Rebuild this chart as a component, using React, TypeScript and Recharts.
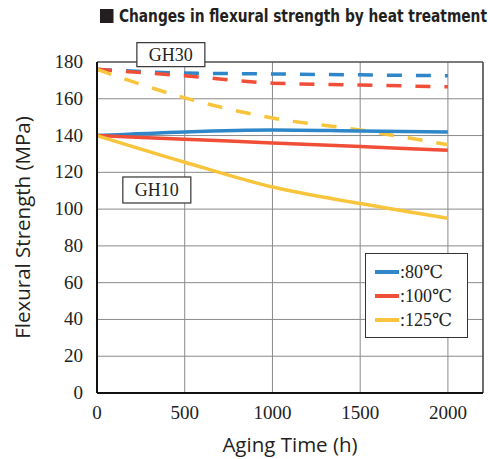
import React from 'react';
import {
  LineChart,
  Line,
  XAxis,
  YAxis,
  CartesianGrid,
  ReferenceLine,
  ReferenceDot,
} from 'recharts';

// aging time (h)
const hours = [0, 500, 1000, 1500, 2000];

// GH10 (solid)
const gh10_80 = [140, 142, 143, 142.5, 142];
const gh10_100 = [140, 138, 136, 134, 132];
const gh10_125 = [140, 125.5, 112, 103, 95];

// GH30 (dashed)
const gh30_80 = [176, 174, 173.5, 173, 172.5];
const gh30_100 = [176, 172.5, 168.5, 167.5, 166.5];
const gh30_125 = [176, 160.5, 149.5, 143, 135];

const xTicks = [0, 500, 1000, 1500, 2000];
const yTicks = [0, 20, 40, 60, 80, 100, 120, 140, 160, 180];

const legendItems = [
  { label: ':80℃', color: '#2f87c9' },
  { label: ':100℃', color: '#f04e37' },
  { label: ':125℃', color: '#f7c43b' },
];

const data = hours.map((h, i) => ({
  h,
  a80: gh10_80[i],
  a100: gh10_100[i],
  a125: gh10_125[i],
  b80: gh30_80[i],
  b100: gh30_100[i],
  b125: gh30_125[i],
}));

const serif = "'Liberation Serif', 'DejaVu Serif', serif";
const sans = "'Open Sans', 'DejaVu Sans', sans-serif";
const condensed = "'DejaVu Sans Condensed', 'DejaVu Sans', sans-serif";

const XTick = (props: any) => {
  const { x, y, payload } = props;
  return (
    <text x={x} y={y + 18} textAnchor="middle" fontFamily={serif} fontSize={19} fill="#222">
      {payload.value}
    </text>
  );
};

const YTick = (props: any) => {
  const { x, y, payload } = props;
  return (
    <text x={x} y={y + 6} textAnchor="end" fontFamily={serif} fontSize={19} fill="#222">
      {payload.value}
    </text>
  );
};

const LabelBox = (text: string, w: number, h: number) => (props: any) => {
  const { cx, cy } = props;
  return (
    <g>
      <rect x={cx - w / 2} y={cy - h / 2} width={w} height={h} fill="#fff" stroke="#333" strokeWidth={1.2} />
      <text x={cx} y={cy + 6.5} textAnchor="middle" fontFamily={serif} fontSize={18} fill="#222">
        {text}
      </text>
    </g>
  );
};

export default function App() {
  const dash = '15 14';
  return (
    <div style={{ position: 'fixed', left: 0, top: 0, width: 488, height: 459, background: '#fff' }}>
      <div
        style={{
          position: 'absolute',
          left: 100,
          top: 6,
          fontFamily: condensed,
          fontWeight: 'bold',
          fontSize: 17,
          color: '#231f20',
          whiteSpace: 'nowrap',
          display: 'flex',
          alignItems: 'center',
          transform: 'scaleX(0.9)',
          transformOrigin: 'left center',
        }}
      >
        <span style={{ display: 'inline-block', width: 15, height: 14, background: '#231f20', marginRight: 6 }} />
        Changes in flexural strength by heat treatment
      </div>
      <LineChart width={488} height={459} data={data} margin={{ top: 62, right: 5, left: 0, bottom: 0 }}>
        <CartesianGrid stroke="#8a8a8a" strokeWidth={1} />
        <XAxis
          dataKey="h"
          type="number"
          domain={[0, 2200]}
          ticks={xTicks}
          height={66}
          axisLine={{ stroke: '#111', strokeWidth: 2 }}
          tickLine={false}
          tick={<XTick />}
          label={{
            value: 'Aging Time (h)',
            position: 'insideBottom',
            offset: 7,
            style: { fill: '#231f20', fontSize: 20.5, fontFamily: sans, textAnchor: 'middle' },
          }}
        />
        <YAxis
          type="number"
          domain={[0, 180]}
          ticks={yTicks}
          width={97}
          axisLine={{ stroke: '#111', strokeWidth: 2 }}
          tickLine={false}
          tick={<YTick />}
          tickMargin={8}
          label={{
            value: 'Flexural Strength (MPa)',
            angle: -90,
            position: 'insideLeft',
            offset: 23,
            style: { fill: '#231f20', fontSize: 20.5, fontFamily: sans, textAnchor: 'middle' },
          }}
        />
        <ReferenceLine x={2200} stroke="#333" strokeWidth={1.2} />
        <ReferenceLine y={180} stroke="#333" strokeWidth={1.2} />

        <Line dataKey="b80" type="monotone" stroke="#2f87c9" strokeWidth={3.5} strokeDasharray={dash} dot={false} isAnimationActive={false} />
        <Line dataKey="b100" type="monotone" stroke="#f04e37" strokeWidth={3.5} strokeDasharray={dash} dot={false} isAnimationActive={false} />
        <Line dataKey="b125" type="monotone" stroke="#f7c43b" strokeWidth={3.5} strokeDasharray={dash} dot={false} isAnimationActive={false} />
        <Line dataKey="a80" type="monotone" stroke="#2f87c9" strokeWidth={3.5} dot={false} isAnimationActive={false} />
        <Line dataKey="a100" type="monotone" stroke="#f04e37" strokeWidth={3.5} dot={false} isAnimationActive={false} />
        <Line dataKey="a125" type="monotone" stroke="#f7c43b" strokeWidth={3.5} dot={false} isAnimationActive={false} />

        <ReferenceDot x={421} y={184} ifOverflow="visible" shape={LabelBox('GH30', 68, 24)} />
        <ReferenceDot x={341} y={110.4} ifOverflow="visible" shape={LabelBox('GH10', 68, 26)} />
      </LineChart>

      {/* series key, drawn over the plot */}
      <div
        style={{
          position: 'absolute',
          left: 365,
          top: 253,
          width: 103,
          height: 85,
          border: '1.2px solid #333',
          background: '#fff',
          boxSizing: 'border-box',
          padding: '6px 0 0 9px',
          fontFamily: serif,
          fontSize: 18,
          color: '#222',
        }}
      >
        {legendItems.map((it) => (
          <div key={it.label} style={{ display: 'flex', alignItems: 'center', height: 24 }}>
            <span style={{ display: 'inline-block', width: 24, height: 3.5, background: it.color }} />
            <span style={{ marginLeft: 1 }}>{it.label}</span>
          </div>
        ))}
      </div>
    </div>
  );
}
